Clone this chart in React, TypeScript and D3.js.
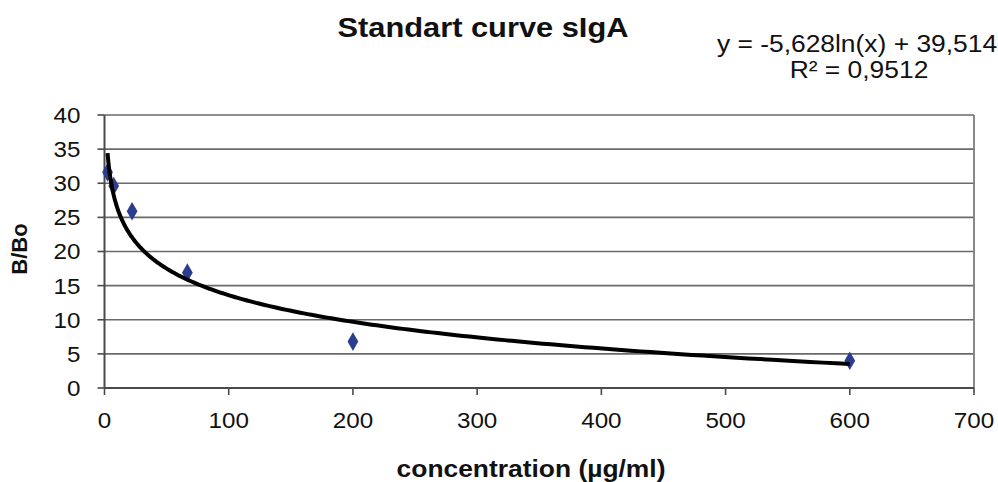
import React from "react";
import * as d3 from "d3";

const concentrations = [2.47, 7.41, 22.2, 66.7, 200, 600];
const bBo = [31.6, 29.6, 25.9, 16.9, 6.8, 4.0];
const xTicks = [0, 100, 200, 300, 400, 500, 600, 700];
const yTicks = [0, 5, 10, 15, 20, 25, 30, 35, 40];
const fitSlope = -5.628;
const fitIntercept = 39.514;
const title = "Standart curve sIgA";
const eqLine1 = "y = -5,628ln(x) + 39,514";
const eqLine2 = "R² = 0,9512";

const W = 998;
const H = 482;
const m = { left: 104.5, right: 24, top: 115, bottom: 94 };
const SX = 1.1;

function T(props: { x: number; y: number; size: number; anchor?: string; bold?: boolean; children: React.ReactNode; dy?: string }) {
  return (
    <text
      transform={`translate(${props.x},${props.y}) scale(${SX},1)`}
      textAnchor={props.anchor || "middle"}
      fontSize={props.size}
      fontWeight={props.bold ? "bold" : "normal"}
      dy={props.dy}
      fill="#111"
    >
      {props.children}
    </text>
  );
}

export default function App() {
  const x = d3.scaleLinear().domain([0, 700]).range([m.left, W - m.right]);
  const y = d3.scaleLinear().domain([0, 40]).range([H - m.bottom, m.top]);
  const x0 = concentrations[0];
  const x1 = concentrations[concentrations.length - 1];
  const curveXs = d3.range(0, 301).map((i) => Math.exp(Math.log(x0) + (Math.log(x1) - Math.log(x0)) * i / 300));
  const line = d3.line<number>().x((d) => x(d)).y((d) => y(fitSlope * Math.log(d) + fitIntercept));
  const font = "'Liberation Sans', Arial, sans-serif";
  const diamond = d3.symbol().type(d3.symbolDiamond).size(100)();
  return (
    <svg width={W} height={H} style={{ position: "absolute", left: 0, top: 0, background: "#fff" }} fontFamily={font}>
      <T x={483} y={37} size={28} bold>{title}</T>
      <T x={857} y={52} size={24}>{eqLine1}</T>
      <T x={859} y={78} size={24}>{eqLine2}</T>
      {yTicks.map((t) => (
        <g key={"y" + t}>
          <line x1={x(0)} x2={x(700)} y1={y(t)} y2={y(t)} stroke="#6a6a6a" strokeWidth={1.6} />
          <line x1={x(0) - 7} x2={x(0)} y1={y(t)} y2={y(t)} stroke="#4a4a4a" strokeWidth={1.6} />
          <T x={x(0) - 24} y={y(t)} dy="0.36em" size={22} anchor="end">{t}</T>
        </g>
      ))}
      <line x1={x(700)} x2={x(700)} y1={y(0)} y2={y(40)} stroke="#7d7d7d" strokeWidth={1.8} />
      <line x1={x(0)} x2={x(0)} y1={y(0)} y2={y(40)} stroke="#4a4a4a" strokeWidth={2} />
      <line x1={x(0)} x2={x(700)} y1={y(0)} y2={y(0)} stroke="#4a4a4a" strokeWidth={2} />
      {xTicks.map((t) => (
        <g key={"x" + t}>
          <line x1={x(t)} x2={x(t)} y1={y(0)} y2={y(0) + 7} stroke="#4a4a4a" strokeWidth={1.6} />
          <T x={x(t)} y={y(0) + 40} size={22}>{t}</T>
        </g>
      ))}
      {concentrations.map((c, i) => (
        <path key={"p" + i} d={diamond || ""} transform={`translate(${x(c)},${y(bBo[i])})`} fill="#2b3d8f" />
      ))}
      <path d={line(curveXs) || ""} fill="none" stroke="#000" strokeWidth={4} />
      <T x={531} y={477} size={24} bold>concentration (µg/ml)</T>
      <text transform={`translate(27,249) rotate(-90)`} textAnchor="middle" fontSize={22} fontWeight="bold" fill="#111">B/Bo</text>
    </svg>
  );
}
